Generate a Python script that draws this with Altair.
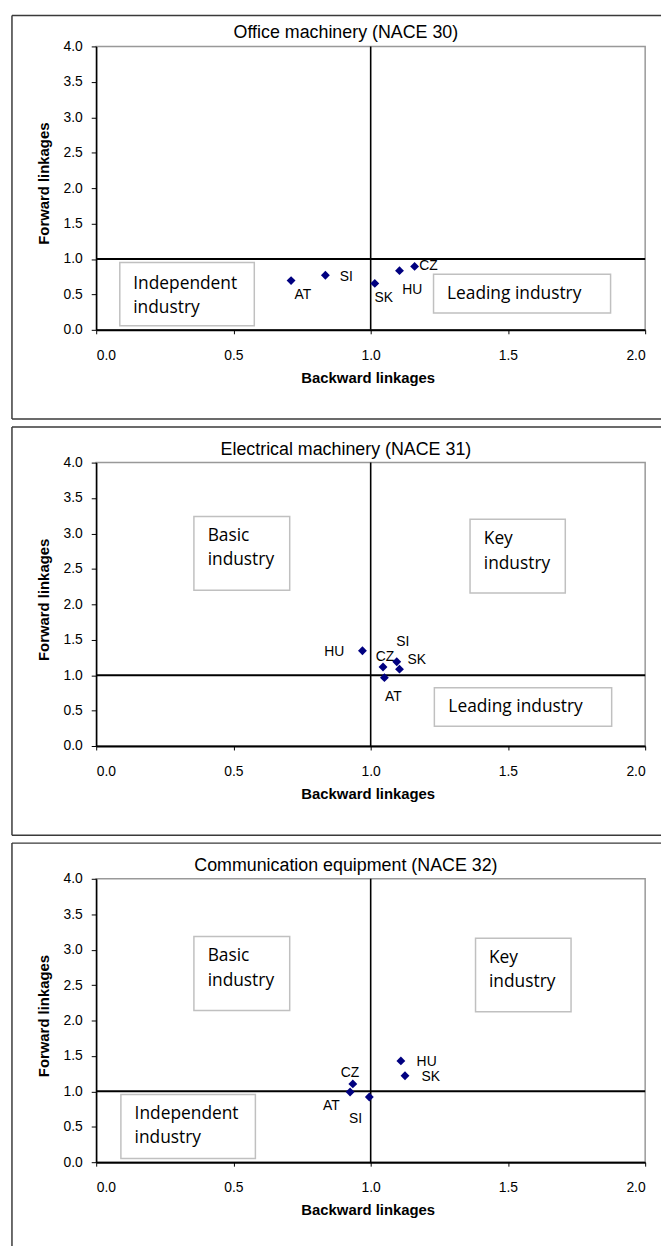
import altair as alt
import pandas as pd

# ---------------- data ----------------
countries = ["AT", "CZ", "HU", "SI", "SK"]
titles = [
    "Office machinery (NACE 30)",
    "Electrical machinery (NACE 31)",
    "Communication equipment (NACE 32)",
]
backward_30 = [0.71, 1.16, 1.105, 0.835, 1.015]
forward_30 = [0.695, 0.895, 0.835, 0.77, 0.655]
backward_31 = [1.05, 1.045, 0.97, 1.095, 1.105]
forward_31 = [0.965, 1.115, 1.345, 1.19, 1.085]
backward_32 = [0.925, 0.935, 1.11, 0.995, 1.125]
forward_32 = [0.99, 1.105, 1.43, 0.92, 1.22]
backward = [backward_30, backward_31, backward_32]
forward = [forward_30, forward_31, forward_32]

x_ticks = [0.0, 0.5, 1.0, 1.5, 2.0]
y_ticks = [0.0, 0.5, 1.0, 1.5, 2.0, 2.5, 3.0, 3.5, 4.0]
threshold = 1.0

# quadrant text boxes (data units): label, x1, x2, y1, y2, text x, text y
quadrants = [
    [("Independent\nindustry", 0.086, 0.576, 0.056, 0.951, 0.135, 0.583),
     ("Leading industry", 1.229, 1.874, 0.238, 0.783, 1.278, 0.431)],
    [("Basic\nindustry", 0.356, 0.705, 2.20, 3.241, 0.406, 2.892),
     ("Key\nindustry", 1.362, 1.709, 2.158, 3.199, 1.412, 2.846),
     ("Leading industry", 1.232, 1.878, 0.28, 0.821, 1.283, 0.478)],
    [("Basic\nindustry", 0.356, 0.705, 2.14, 3.185, 0.406, 2.836),
     ("Key\nindustry", 1.382, 1.730, 2.122, 3.161, 1.431, 2.814),
     ("Independent\nindustry", 0.090, 0.580, 0.052, 0.955, 0.140, 0.608)],
]

# ---------------- styling ----------------
label_offsets = [
    {"AT": (12, 15), "CZ": (14, 0), "HU": (13, 20), "SI": (21, 2), "SK": (9, 14.5)},
    {"AT": (9, 20), "CZ": (2, -10), "HU": (-28.5, 1), "SI": (6, -19.5), "SK": (17.5, -9)},
    {"AT": (-19, 14), "CZ": (-3, -11), "HU": (26, 1), "SI": (-14, 22), "SK": (26, 1)},
]

FONT = "Liberation Sans"
BOX_FONT = "Open Sans"
W, H = 554, 286
FRAME = "#3a3a3a"

xs = alt.Scale(domain=[0, 2], nice=False, zero=False)
ys = alt.Scale(domain=[0, 4], nice=False, zero=False)

xax = alt.Axis(values=x_ticks, format=".1f", title="Backward linkages", grid=False,
               domainColor="black", domainWidth=2, tickColor="black", tickSize=4, tickWidth=1,
               labelFont=FONT, labelFontSize=14, labelColor="black",
               labelBaseline="alphabetic", labelPadding=26,
               titleFont=FONT, titleFontSize=15, titleFontWeight="bold", titleColor="black",
               titleX=274, titleY=53, titleBaseline="alphabetic", titleAnchor="middle",
               titleAlign="center")
yax = alt.Axis(values=y_ticks, format=".1f", title="Forward linkages", grid=False,
               domainColor="black", domainWidth=1.5, tickColor="black", tickSize=5, tickWidth=1,
               labelFont=FONT, labelFontSize=14, labelColor="black", labelPadding=9,
               titleFont=FONT, titleFontSize=15, titleFontWeight="bold", titleColor="black",
               titleX=-48, titleY=138, titleAngle=270, titleBaseline="alphabetic",
               titleAlign="center", titleAnchor="middle")

one = alt.Data(values=[{}])


def panel(i):
    df = pd.DataFrame({"country": countries, "backward": backward[i], "forward": forward[i]})
    X = alt.X("backward:Q", scale=xs, axis=xax)
    Y = alt.Y("forward:Q", scale=ys, axis=yax)

    vline = alt.Chart(one).mark_rule(color="black", strokeWidth=1.6).encode(
        x=alt.datum(threshold, scale=xs, axis=xax))
    hline = alt.Chart(one).mark_rule(color="black", strokeWidth=2).encode(
        y=alt.datum(threshold, scale=ys, axis=yax))

    qdf = pd.DataFrame(quadrants[i], columns=["label", "x1", "x2", "y1", "y2", "tx", "ty"])
    boxes = alt.Chart(qdf).mark_rect(fill="white", stroke="#c0c0c0", strokeWidth=1.5).encode(
        x=alt.X("x1:Q", scale=xs, axis=xax), x2="x2:Q",
        y=alt.Y("y1:Q", scale=ys, axis=yax), y2="y2:Q")
    box_text = alt.Chart(qdf).mark_text(
        align="left", baseline="alphabetic", font=BOX_FONT, fontSize=17.5,
        lineBreak="\n", lineHeight=24.5, color="black").encode(
        x=alt.X("tx:Q", scale=xs, axis=xax), y=alt.Y("ty:Q", scale=ys, axis=yax), text="label:N")

    pts = alt.Chart(df).mark_point(shape="diamond", filled=True, size=80, color="#000080",
                                   opacity=1).encode(x=X, y=Y)

    labels = []
    for c in countries:
        dx, dy = label_offsets[i][c]
        labels.append(
            alt.Chart(df).transform_filter(alt.datum.country == c).mark_text(
                font=FONT, fontSize=14, color="black", align="center", baseline="middle",
                dx=dx, dy=dy).encode(x=X, y=Y, text="country:N"))

    top_y = -31.25 if i == 0 else -36
    frame = [
        alt.Chart(one).mark_rule(color=FRAME, strokeWidth=1.5).encode(
            x=alt.value(-85), x2=alt.value(570), y=alt.value(top_y)),
        alt.Chart(one).mark_rule(color=FRAME, strokeWidth=1.5).encode(
            x=alt.value(-85), y=alt.value(top_y), y2=alt.value(376 if i < 2 else 385)),
    ]
    if i < 2:
        frame.append(alt.Chart(one).mark_rule(color=FRAME, strokeWidth=1.5).encode(
            x=alt.value(-85), x2=alt.value(570), y=alt.value(376)))

    title = alt.Chart(one).mark_text(
        text=titles[i], font=FONT, fontSize=18, color="black",
        align="center", baseline="alphabetic").encode(x=alt.value(252), y=alt.value(-8))

    return alt.layer(boxes, box_text, vline, hline, pts, *labels, *frame, title).properties(
        width=W, height=H)


chart = alt.vconcat(*[panel(i) for i in range(3)], spacing=4).properties(
    padding={"left": 2, "top": 0, "right": 0, "bottom": 0}
).configure_view(stroke="#999999", strokeWidth=1.5)

chart.save("out.html", embed_options={"renderer": "svg", "actions": False})
